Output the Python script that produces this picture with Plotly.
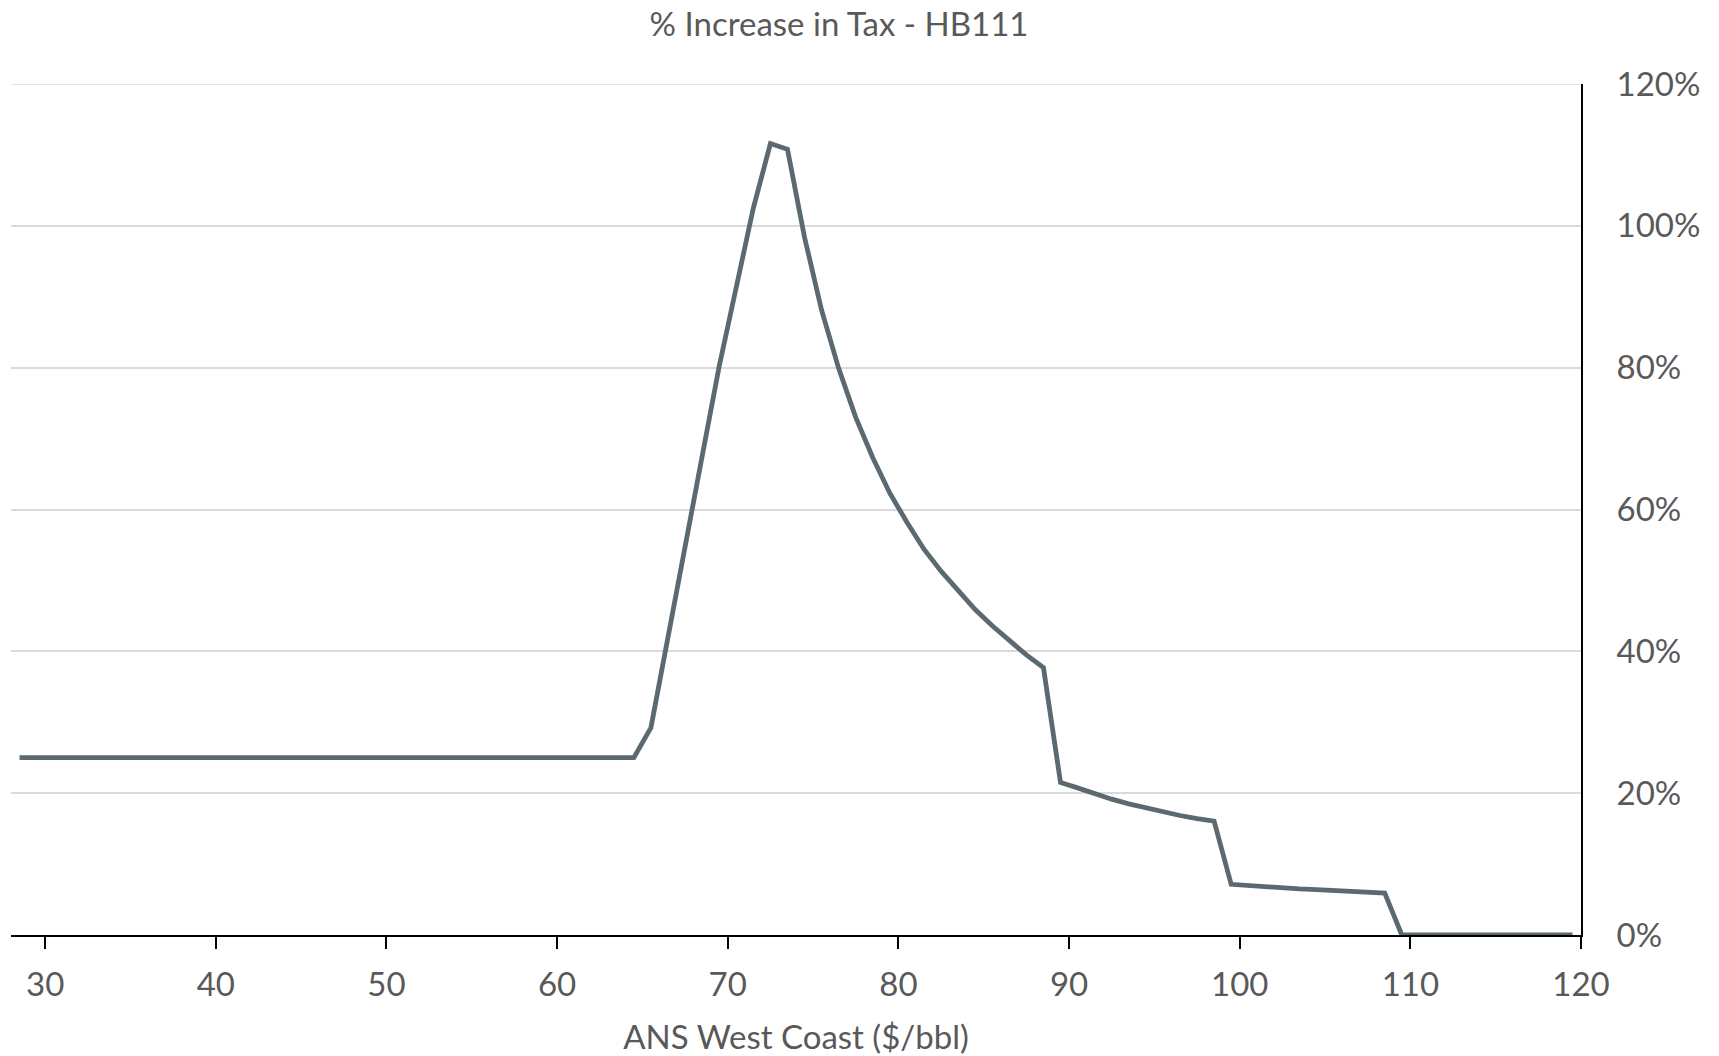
import plotly.graph_objects as go

# ANS West Coast price ($/bbl)
price = [28.5 + i for i in range(92)]  # 28.5 ... 119.5

flat_low = [25.0] * 37  # 28.5 .. 64.5
rise_fall = [29.25, 41.75, 54.5, 67.5, 80.2, 91.5, 102.5, 111.6, 110.8, 98.4,   # 65.5 .. 74.5
             88.1, 79.9, 73.0, 67.3, 62.3, 58.2, 54.4, 51.3, 48.5, 45.9,        # 75.5 .. 84.5
             43.6, 41.5, 39.5, 37.7]                                            # 85.5 .. 88.5
mid_tier = [21.5, 20.75, 19.9, 19.15, 18.5, 17.9, 17.3, 16.85, 16.4, 16.05]    # 89.5 .. 98.5
upper_tier = [7.15, 6.95, 6.8, 6.65, 6.5, 6.4, 6.25, 6.15, 6.0, 5.9]           # 99.5 .. 108.5
zero_tier = [0.0] * 11                                                         # 109.5 .. 119.5

pct_increase = [v / 100 for v in flat_low + rise_fall + mid_tier + upper_tier + zero_tier]

x_ticks = [30, 40, 50, 60, 70, 80, 90, 100, 110, 120]
y_ticks = [0, 0.2, 0.4, 0.6, 0.8, 1.0, 1.2]

TEXT = "#595959"
FONT = "Lato"
GRID = "#d9d9d9"

# page body has an 8px margin, so the figure is 8px smaller on each axis
W, H = 1711, 1048

fig = go.Figure()
fig.add_trace(go.Scatter(
    x=price, y=pct_increase, mode="lines",
    line=dict(color="#5b6a71", width=4.8),
    hoverinfo="skip", showlegend=False,
))

# top gridline (plotly drops gridlines sitting on the plot edge)
fig.add_shape(type="line", xref="paper", x0=0, x1=1, yref="y",
              y0=y_ticks[-1], y1=y_ticks[-1],
              line=dict(color=GRID, width=1.5), layer="below")

fig.update_layout(
    width=W, height=H,
    paper_bgcolor="white", plot_bgcolor="white",
    margin=dict(l=3, r=138, t=76, b=121),
    font=dict(family=FONT, size=33, color=TEXT),
    title=dict(text="% Increase in Tax - HB111", x=831 / W, xanchor="center",
               y=1 - 16 / H, yanchor="middle", yref="container",
               font=dict(family=FONT, size=33, color=TEXT)),
)

fig.update_xaxes(
    range=[28, 120], tickvals=x_ticks, ticktext=[str(t) for t in x_ticks],
    ticks="outside", ticklen=12, tickwidth=2, tickcolor="black",
    showline=True, linecolor="black", linewidth=2,
    showgrid=False, zeroline=False, ticklabelstandoff=7,
    tickfont=dict(family=FONT, size=33, color=TEXT),
    title=dict(text="ANS West Coast ($/bbl)", standoff=24,
               font=dict(family=FONT, size=33, color=TEXT)),
)

fig.update_yaxes(
    side="right", range=[0, 1.2], tickvals=y_ticks, tickformat=".0%",
    showgrid=True, gridcolor=GRID, gridwidth=1.5,
    showline=True, linecolor="black", linewidth=2,
    ticks="", zeroline=False, ticklabelstandoff=27,
    tickfont=dict(family=FONT, size=33, color=TEXT),
)

fig.write_html("out.html")
